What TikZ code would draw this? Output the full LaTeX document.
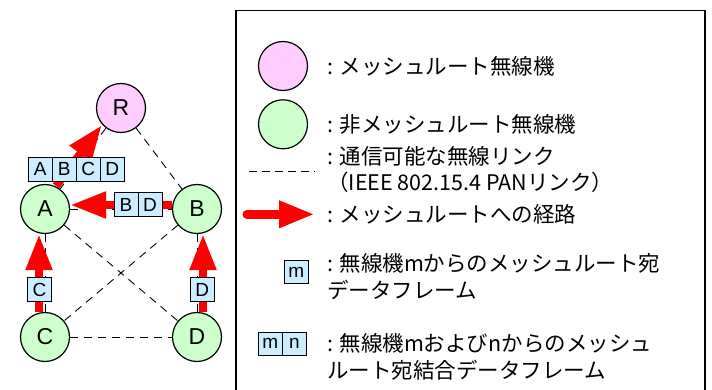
\documentclass[tikz,border=0pt]{standalone}
\usepackage{fontspec}
\setmainfont{Liberation Sans}
\newfontfamily\jpfont{Noto Sans CJK JP}
\usetikzlibrary{positioning}
\usetikzlibrary{arrows.meta}

\begin{document}
\begin{tikzpicture}[x=1pt,y=-1pt,
  station/.style={circle,draw=black,line width=1.2pt,minimum size=49pt,inner sep=0pt,
    font=\fontsize{23}{23}\selectfont},
  rootstation/.style={station,fill=rootpink},
  meshstation/.style={station,fill=nodegreen},
  panlink/.style={black,line width=0.9pt,dash pattern=on 8pt off 6pt},
  meshroute/.style={routered,line width=8pt,-{Triangle[length=36pt,width=25pt]}},
  framecell/.style={draw=black,line width=1pt,fill=framecyan,minimum width=24pt,
    minimum height=23.5pt,inner sep=0pt,outer sep=0pt,font=\fontsize{19}{19}\selectfont},
  legendtext/.style={anchor=west,align=left,inner sep=0pt,
    font=\jpfont\fontsize{21.5}{26.5}\selectfont}]
\definecolor{rootpink}{RGB}{255,204,255}
\definecolor{nodegreen}{RGB}{204,255,204}
\definecolor{framecyan}{RGB}{204,236,255}
\colorlet{routered}{red}

\useasboundingbox (0,0) rectangle (712,390);

% mesh network
\node[rootstation] (R) at (121,108) {R};
\node[meshstation] (A) at (45,209) {A};
\node[meshstation] (B) at (197,209) {B};
\node[meshstation] (C) at (45,337) {C};
\node[meshstation] (D) at (197,337) {D};

\foreach \from/\to in {R/A,R/B,A/B,A/C,A/D,B/C,B/D,C/D} {
  \draw[panlink] (\from) -- (\to);
}

\draw[meshroute] ([xshift=-4pt,yshift=3pt]A.53) -- ([xshift=-4pt,yshift=3pt]R.233);
\draw[meshroute] ([yshift=4pt]B.west) -- ([yshift=4pt]A.east);
\draw[meshroute] ([xshift=-6pt]C.north) -- ([xshift=-6pt]A.south);
\draw[meshroute] ([xshift=6pt]D.north) -- ([xshift=6pt]B.south);

% data frames
\node[framecell] (toRA) at (40.3,169.3) {A};
\node[framecell,right=0pt of toRA] (toRB) {B};
\node[framecell,right=0pt of toRB] (toRC) {C};
\node[framecell,right=0pt of toRC] (toRD) {D};
\node[framecell] (toAB) at (126,204.7) {B};
\node[framecell,right=0pt of toAB] (toAD) {D};
\node[framecell] (toAC) at (39.5,289.5) {C};
\node[framecell] (toBD) at (202.3,289.5) {D};

% legend
\draw[black,line width=1.3pt] (236,10.7) rectangle (705,395);

\node[rootstation] (lgroot) at (283,66) {};
\node[meshstation] (lgmesh) at (283,124.3) {};
\coordinate (lglinkL) at (249,171.7);
\coordinate (lglinkR) at (315,171.7);
\draw[panlink,dash pattern=on 8pt off 5pt] (lglinkL) -- (lglinkR);
\coordinate (lgrouteL) at (247,214.3);
\coordinate (lgrouteR) at (315,214.3);
\draw[meshroute,line width=9pt,line cap=round] (lgrouteL) -- (lgrouteR);
\node[framecell] (lgm) at (296.3,272.2) {m};
\node[framecell] (lgmnm) at (270.4,343.8) {m};
\node[framecell,right=0pt of lgmnm] (lgmnn) {n};

\node[legendtext] (lgroottext) at (327,66) {: メッシュルート無線機};
\node[legendtext] (lgmeshtext) at (327,124.3) {: 非メッシュルート無線機};
\node[legendtext] (lglinktext) at (327,169.7) {: 通信可能な無線リンク\\（IEEE 802.15.4 PANリンク）};
\node[legendtext] (lgroutetext) at (327,214.3) {: メッシュルートへの経路};
\node[legendtext] (lgmtext) at (327,276.5) {: 無線機mからのメッシュルート宛\\データフレーム};
\node[legendtext] (lgmntext) at (327,357) {: 無線機mおよびnからのメッシュ\\ルート宛結合データフレーム};
\end{tikzpicture}
\end{document}
